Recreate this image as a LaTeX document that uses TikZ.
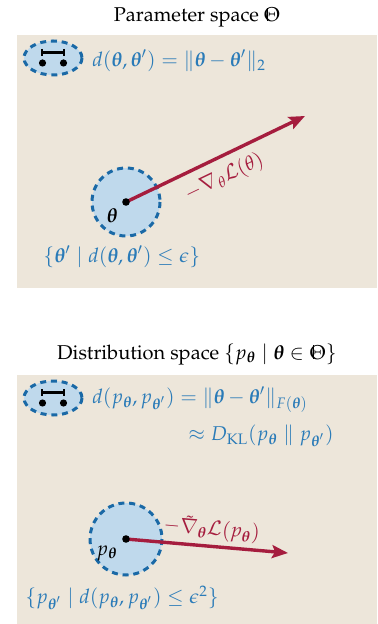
\documentclass[tikz,border=0pt]{standalone}
\usepackage[T1]{fontenc}
\usepackage{mathpazo}
\usepackage{amsmath}
\usepackage{tikz}
\usetikzlibrary{arrows.meta}
\definecolor{spacebg}{HTML}{EDE6DA}
\definecolor{ballfill}{HTML}{BFD9EC}
\definecolor{balledge}{HTML}{1A69A6}
\definecolor{metricblue}{HTML}{2A7BB8}
\definecolor{gradred}{HTML}{A51D3E}
% double-struck Theta
\newcommand{\dsTheta}{\mbox{\ooalign{$\Theta$\cr\hskip0.17em\rule[0.02em]{0.045em}{0.66em}\hfil\cr}}}

\begin{document}
\begin{tikzpicture}[x=0.5pt,y=-0.5pt,
  space/.style={fill=spacebg},
  ball/.style={fill=ballfill,draw=balledge,line width=1.5pt,dash pattern=on 3pt off 2.4pt},
  metric/.style={text=metricblue,anchor=west,inner sep=0pt},
  grad/.style={draw=gradred,line width=1.7pt,-{Stealth[length=8pt,width=6.5pt,inset=1.5pt]}},
  gradlabel/.style={text=gradred,sloped,inner sep=2pt}]
  \useasboundingbox (0,0) rectangle (377,624);

  % parameter space
  \node (titleA) at (197,17) {Parameter space $\dsTheta$};
  \fill[space] (17,35) rectangle (377,288);
  \filldraw[ball] (53,58) ellipse [x radius=29, y radius=17];
  \draw[line width=1.2pt] (42,49) -- (42,56) (42,52.5) -- (64,52.5) (64,49) -- (64,56);
  \fill (42.5,63) circle[radius=3.6] (63.5,63) circle[radius=3.6];
  \node[metric] (distA) at (92,61) {$d(\boldsymbol{\theta},\boldsymbol{\theta}')=\|\boldsymbol{\theta}-\boldsymbol{\theta}'\|_2$};

  \coordinate (thetaA) at (126,202);
  \coordinate (stepA) at (305,116);
  \filldraw[ball] (thetaA) circle[radius=34];
  \draw[grad] (thetaA) -- node[gradlabel,below,pos=0.5,inner sep=4pt] {$-\nabla_{\theta}\mathcal{L}(\theta)$} (stepA);
  \fill (thetaA) circle[radius=3.8];
  \node (ptA) at (112,216) {$\boldsymbol{\theta}$};
  \node[metric] (ballA) at (43,257) {$\{\boldsymbol{\theta}'\mid d(\boldsymbol{\theta},\boldsymbol{\theta}')\le\epsilon\}$};

  % distribution space
  \node (titleB) at (197,354) {Distribution space $\{p_{\boldsymbol{\theta}}\mid\boldsymbol{\theta}\in\dsTheta\}$};
  \fill[space] (17,375) rectangle (377,624);
  \filldraw[ball] (53,398) ellipse [x radius=29, y radius=17];
  \draw[line width=1.2pt] (42,389) -- (42,396) (42,392.5) -- (64,392.5) (64,389) -- (64,396);
  \fill (42.5,403) circle[radius=3.6] (63.5,403) circle[radius=3.6];
  \node[metric] (distB) at (92,400) {$d(p_{\boldsymbol{\theta}},p_{\boldsymbol{\theta}'})=\|\boldsymbol{\theta}-\boldsymbol{\theta}'\|_{F(\boldsymbol{\theta})}$};
  \node[metric] (klB) at (188,436) {$\approx D_{\mathrm{KL}}(p_{\boldsymbol{\theta}}\parallel p_{\boldsymbol{\theta}'})$};

  \coordinate (thetaB) at (126,539);
  \coordinate (stepB) at (288,553);
  \filldraw[ball] (thetaB) circle[radius=36];
  \draw[grad] (thetaB) -- node[gradlabel,above,pos=0.52] {$-\tilde{\nabla}_{\boldsymbol{\theta}}\mathcal{L}(p_{\boldsymbol{\theta}})$} (stepB);
  \fill (thetaB) circle[radius=3.8];
  \node (ptB) at (107,553) {$p_{\boldsymbol{\theta}}$};
  \node[metric] (ballB) at (25,598) {$\{p_{\boldsymbol{\theta}'}\mid d(p_{\boldsymbol{\theta}},p_{\boldsymbol{\theta}'})\le\epsilon^2\}$};
\end{tikzpicture}
\end{document}
